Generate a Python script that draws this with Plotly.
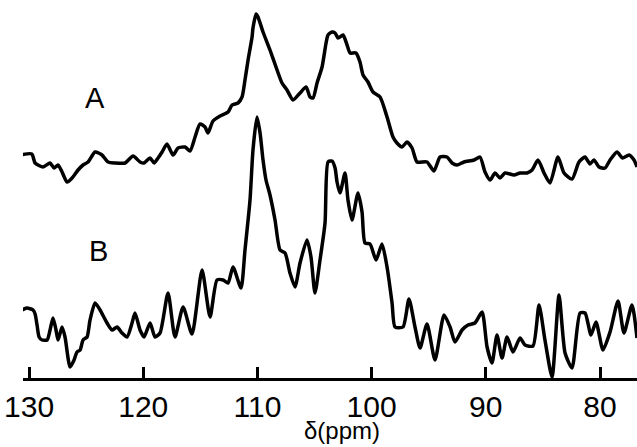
import plotly.graph_objects as go

# Chemical shift (ppm) and relative intensity (arbitrary units) for spectrum A
ppm_A = [130.73, 129.76, 129.47, 128.77, 128.16, 127.81, 127.46, 127.11, 126.67, 126.23,
         125.71, 125.27, 124.83, 124.22, 123.61, 123.08, 122.47, 121.59, 120.89, 120.28,
         119.93, 119.40, 119.05, 118.70, 118.35, 117.92, 117.39, 116.95, 116.34, 115.90,
         115.46, 115.03, 114.59, 114.33, 113.89, 113.27, 112.57, 112.22, 111.70, 111.35,
         111.09, 110.82, 110.47, 110.39, 110.12, 109.95, 109.51, 108.90, 108.28, 107.85,
         107.41, 106.88, 106.27, 105.74, 105.39, 105.13, 104.78, 104.34, 103.99, 103.82,
         103.47, 103.20, 102.94, 102.50, 102.15, 101.89, 101.37, 101.02, 100.75, 100.32,
         99.88, 99.26, 98.65, 98.13, 97.78, 97.34, 96.90, 96.46, 96.02, 95.15,
         94.54, 94.01, 93.40, 92.96, 92.52, 91.91, 91.03, 90.51, 90.07, 89.63,
         89.19, 88.76, 88.32, 87.53, 87.00, 86.39, 85.95, 85.43, 84.90, 84.38,
         83.68, 83.15, 82.45, 81.84, 81.31, 80.88, 80.53, 80.09, 79.56, 79.12,
         78.51, 78.03, 77.46, 77.02, 76.76]
int_A = [1.0, 1.1, 0.2, -0.2, 0.2, -0.3, 0.0, -0.7, -1.7, -1.3,
         -0.5, 0.0, 0.3, 1.3, 1.0, 0.3, 0.2, 0.2, 0.9, 0.3,
         0.2, 0.7, 0.2, 0.7, 1.3, 2.1, 1.0, 1.7, 1.8, 1.4,
         2.8, 4.1, 3.8, 3.2, 4.4, 4.9, 5.3, 6.0, 6.2, 6.8,
         8.5, 10.5, 12.8, 13.7, 15.1, 14.8, 13.3, 11.5, 9.5, 8.2,
         7.5, 6.5, 7.2, 7.8, 6.8, 6.7, 8.2, 9.8, 12.2, 13.0,
         13.3, 13.2, 12.7, 13.0, 12.0, 11.2, 11.2, 10.3, 9.0, 8.3,
         7.3, 6.8, 4.8, 2.8, 2.2, 1.8, 2.3, 1.7, 0.3, 0.3,
         -0.6, 0.8, 0.8, 0.2, 0.0, 0.3, 0.5, 0.8, -0.7, -1.5,
         -0.8, -1.3, -0.8, -1.0, -0.8, -0.8, -0.5, 0.5, -0.8, -1.8,
         0.8, -0.8, -1.4, 0.3, 0.8, 0.1, 0.5, -0.2, -0.3, 0.5,
         1.3, 0.7, 1.0, 0.5, -0.2]

# Chemical shift (ppm) and relative intensity (arbitrary units) for spectrum B
ppm_B = [130.61, 130.18, 129.65, 129.47, 129.30, 129.12, 128.86, 128.42, 128.16, 127.90,
         127.64, 127.46, 127.11, 126.85, 126.41, 126.06, 125.80, 125.53, 125.27, 124.92,
         124.66, 124.22, 123.78, 123.17, 122.73, 122.29, 121.86, 121.42, 120.98, 120.72,
         120.28, 119.93, 119.40, 118.97, 118.53, 117.83, 117.22, 116.51, 115.73, 114.85,
         114.15, 113.54, 113.01, 112.57, 112.14, 111.44, 111.09, 110.65, 110.39, 110.04,
         109.77, 109.51, 109.25, 108.90, 108.46, 108.02, 107.58, 107.15, 106.71, 106.27,
         105.66, 105.31, 104.96, 104.52, 104.08, 103.82, 103.47, 103.20, 103.03, 102.77,
         102.33, 102.07, 101.72, 101.19, 100.84, 100.58, 100.14, 99.61, 99.09, 98.65,
         98.21, 97.95, 97.25, 96.73, 96.20, 95.76, 95.15, 94.45, 93.66, 93.13,
         92.70, 92.08, 91.56, 90.95, 90.33, 89.89, 89.46, 89.02, 88.58, 88.14,
         87.62, 87.00, 86.57, 85.87, 85.34, 84.82, 84.20, 83.59, 83.06, 82.45,
         81.75, 81.31, 80.79, 80.35, 79.74, 79.12, 78.42, 77.90, 77.20, 76.76]
int_B = [3.5, 3.7, 3.5, 3.1, 2.0, 0.8, 0.5, 0.5, 1.5, 2.7,
         1.5, 0.5, 1.8, 0.8, -2.2, -1.5, -0.7, -0.5, 0.5, 0.8,
         2.5, 4.2, 3.5, 2.2, 1.5, 1.8, 1.2, 0.8, 2.2, 3.2,
         1.5, 0.8, 2.2, 0.8, 1.2, 5.2, 0.8, 3.8, 1.1, 7.5,
         2.8, 6.5, 6.5, 6.2, 7.8, 5.7, 9.5, 14.5, 19.5, 22.8,
         21.2, 18.5, 16.5, 15.0, 12.5, 9.5, 9.2, 7.2, 5.8, 8.2,
         10.5, 8.8, 5.2, 8.5, 12.2, 18.3, 18.4, 17.7, 16.3, 15.2,
         17.2, 14.5, 12.5, 15.2, 13.3, 10.2, 10.1, 8.5, 10.1, 7.8,
         4.2, 1.8, 1.8, 4.6, 1.8, -0.3, 2.1, -1.5, 3.0, 1.8,
         0.3, 1.5, 2.0, 2.2, 3.3, -0.2, -1.8, 1.0, -1.3, 0.8,
         -0.7, 0.7, 0.0, -0.1, 4.0, 0.5, -3.2, 5.0, -0.8, -2.3,
         3.2, 3.2, 1.0, 2.3, -0.5, 1.3, 4.4, 1.2, 4.0, 0.7]

tick_vals = [130, 120, 110, 100, 90, 80]
tick_text = ["130", "120", "110", "100", "90", "80"]
labels = ["A", "B"]

offset_A = 21.3
offset_B = 3.3

fig = go.Figure()
line = dict(color="black", width=3.5, shape="spline", smoothing=0.6)
fig.add_trace(go.Scatter(x=ppm_A, y=[v + offset_A for v in int_A], mode="lines",
                         line=line, showlegend=False, hoverinfo="skip", cliponaxis=False))
fig.add_trace(go.Scatter(x=ppm_B, y=[v + offset_B for v in int_B], mode="lines",
                         line=line, showlegend=False, hoverinfo="skip", cliponaxis=False))

fig.add_annotation(x=124.2, y=28.0, text=labels[0], showarrow=False,
                   font=dict(family="Liberation Sans", size=29, color="black"))
fig.add_annotation(x=123.95, y=12.7, text=labels[1], showarrow=False,
                   font=dict(family="Liberation Sans", size=29, color="black"))
fig.add_annotation(xref="paper", yref="paper", x=0.52, y=-0.138, yanchor="middle",
                   text="δ(ppm)", showarrow=False,
                   font=dict(family="Liberation Sans", size=24, color="black"))

fig.update_xaxes(range=[130.53, 76.76], tickvals=tick_vals, ticktext=tick_text,
                 ticks="inside", ticklen=11, tickwidth=3, tickcolor="black",
                 showline=True, linecolor="black", linewidth=3,
                 showgrid=False, zeroline=False, automargin=False,
                 tickfont=dict(family="Liberation Sans", size=30, color="black"))
fig.update_yaxes(range=[0, 37.8], visible=False, showgrid=False, zeroline=False,
                 automargin=False)

fig.update_layout(width=637, height=447, margin=dict(l=23, r=0, t=0, b=69),
                  paper_bgcolor="white", plot_bgcolor="white")

fig.write_html("out.html", config={"displayModeBar": False},
               post_script="document.body.style.margin='0';document.body.style.overflow='hidden';")
